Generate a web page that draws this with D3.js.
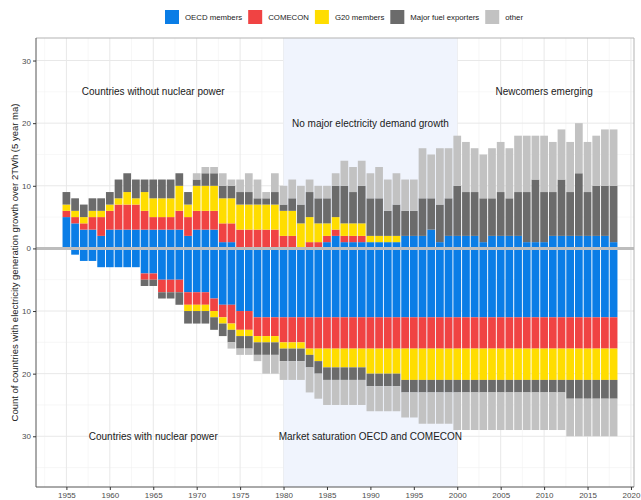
<!DOCTYPE html>
<html>
<head>
<meta charset="utf-8">
<script src="https://cdn.jsdelivr.net/npm/d3@7"></script>
<style>
  body { margin: 0; background: #fff; }
  svg { font-family: "Liberation Sans", Arial, sans-serif; }
</style>
</head>
<body>
<svg width="641" height="500"></svg>
<script>
'use strict';

const years = [1955, 1956, 1957, 1958, 1959, 1960, 1961, 1962, 1963, 1964,
    1965, 1966, 1967, 1968, 1969, 1970, 1971, 1972, 1973, 1974,
    1975, 1976, 1977, 1978, 1979, 1980, 1981, 1982, 1983, 1984,
    1985, 1986, 1987, 1988, 1989, 1990, 1991, 1992, 1993, 1994,
    1995, 1996, 1997, 1998, 1999, 2000, 2001, 2002, 2003, 2004,
    2005, 2006, 2007, 2008, 2009, 2010, 2011, 2012, 2013, 2014,
    2015, 2016, 2017, 2018];

const groups = ["OECD members", "COMECON", "G20 members", "Major fuel exporters", "other"];
const groupColors = ["#0a7de6", "#f04343", "#ffdd00", "#6b6b6b", "#c2c2c2"];

// countries without nuclear power (drawn upwards)
const oecdNoNuc = [5, 4, 3, 3, 2, 3, 3, 3, 3, 3,
    3, 3, 3, 3, 2, 3, 3, 3, 1, 1,
    0, 0, 0, 0, 0, 0, 0, 0, 0, 0,
    1, 2, 1, 1, 1, 1, 1, 1, 1, 2,
    2, 2, 3, 1, 2, 2, 2, 2, 1, 2,
    2, 2, 2, 1, 1, 1, 2, 2, 2, 2,
    2, 2, 2, 1];
const comeconNoNuc = [1, 1, 1, 2, 3, 3, 4, 4, 4, 3,
    2, 2, 2, 3, 3, 3, 3, 3, 3, 3,
    3, 3, 3, 3, 3, 2, 2, 0, 1, 1,
    1, 1, 1, 1, 1, 0, 0, 0, 0, 0,
    0, 0, 0, 0, 0, 0, 0, 0, 0, 0,
    0, 0, 0, 0, 0, 0, 0, 0, 0, 0,
    0, 0, 0, 0];
const g20NoNuc = [1, 1, 1, 1, 1, 1, 1, 2, 1, 3,
    3, 3, 3, 4, 2, 4, 4, 4, 4, 4,
    4, 4, 4, 4, 4, 4, 4, 4, 4, 3,
    2, 2, 2, 2, 2, 1, 1, 1, 1, 0,
    0, 0, 0, 0, 0, 0, 0, 0, 0, 0,
    0, 0, 0, 0, 0, 0, 0, 0, 0, 0,
    0, 0, 0, 0];
const fuelNoNuc = [2, 2, 2, 2, 2, 2, 3, 3, 3, 2,
    3, 3, 3, 2, 2, 1, 2, 2, 2, 2,
    2, 2, 1, 1, 2, 1, 2, 3, 4, 4,
    4, 5, 6, 5, 6, 6, 6, 4, 5, 4,
    4, 6, 5, 6, 6, 8, 7, 7, 7, 6,
    7, 6, 7, 8, 10, 8, 7, 9, 7, 10,
    7, 8, 8, 9];
const otherNoNuc = [0, 0, 0, 0, 0, 0, 0, 0, 0, 0,
    0, 0, 0, 0, 0, 1, 1, 1, 2, 1,
    2, 3, 3, 1, 3, 3, 3, 3, 2, 2,
    2, 2, 4, 4, 4, 4, 5, 5, 5, 5,
    5, 8, 7, 9, 8, 8, 8, 7, 7, 8,
    8, 8, 9, 9, 7, 9, 8, 8, 8, 8,
    8, 8, 9, 9];

// countries with nuclear power (drawn downwards)
const oecdNuc = [0, 1, 2, 2, 3, 3, 3, 3, 3, 4,
    4, 5, 5, 5, 7, 7, 7, 8, 9, 9,
    10, 10, 11, 11, 11, 11, 11, 11, 11, 11,
    11, 11, 11, 11, 11, 11, 11, 11, 11, 11,
    11, 11, 11, 11, 11, 11, 11, 11, 11, 11,
    11, 11, 11, 11, 11, 11, 11, 11, 11, 11,
    11, 11, 11, 11];
const comeconNuc = [0, 0, 0, 0, 0, 0, 0, 0, 0, 1,
    1, 2, 2, 2, 2, 2, 2, 2, 2, 3,
    3, 3, 3, 3, 3, 4, 4, 4, 5, 5,
    5, 5, 5, 5, 5, 5, 5, 5, 5, 5,
    5, 5, 5, 5, 5, 5, 5, 5, 5, 5,
    5, 5, 5, 5, 5, 5, 5, 5, 5, 5,
    5, 5, 5, 5];
const g20Nuc = [0, 0, 0, 0, 0, 0, 0, 0, 0, 0,
    0, 0, 0, 0, 1, 1, 1, 1, 1, 1,
    1, 1, 1, 1, 1, 1, 1, 1, 1, 2,
    3, 3, 3, 3, 3, 4, 4, 4, 4, 5,
    5, 5, 5, 5, 5, 5, 5, 5, 5, 5,
    5, 5, 5, 5, 5, 5, 5, 5, 5, 5,
    5, 5, 5, 5];
const fuelNuc = [0, 0, 0, 0, 0, 0, 0, 0, 0, 1,
    1, 1, 1, 2, 2, 2, 2, 2, 2, 2,
    2, 2, 2, 2, 2, 2, 2, 2, 2, 2,
    2, 2, 2, 2, 2, 2, 2, 2, 2, 2,
    2, 2, 2, 2, 2, 2, 2, 2, 2, 2,
    2, 2, 2, 2, 2, 2, 2, 2, 3, 3,
    3, 3, 3, 3];
const otherNuc = [0, 0, 0, 0, 0, 0, 0, 0, 0, 0,
    0, 0, 0, 0, 0, 0, 0, 0, 0, 1,
    1, 1, 1, 3, 3, 3, 3, 3, 4, 4,
    4, 4, 4, 4, 4, 4, 4, 4, 4, 4,
    4, 5, 5, 5, 5, 6, 6, 6, 6, 6,
    6, 6, 6, 6, 6, 6, 6, 6, 6, 6,
    6, 6, 6, 6];

const xTicks = [1955, 1960, 1965, 1970, 1975, 1980, 1985, 1990, 1995, 2000, 2005, 2010, 2015, 2020];
const yTicks = [-30, -20, -10, 0, 10, 20, 30];

const notes = [
    {text: "Countries without nuclear power", year: 1965, value: 25},
    {text: "No major electricity demand growth", year: 1990, value: 20},
    {text: "Newcomers emerging", year: 2010, value: 25},
    {text: "Countries with nuclear power", year: 1965, value: -30},
    {text: "Market saturation OECD and COMECON", year: 1990, value: -30}
];

// build tables for d3.stack
const upRows = years.map((y, i) => ({
    year: y,
    "OECD members": oecdNoNuc[i],
    "COMECON": comeconNoNuc[i],
    "G20 members": g20NoNuc[i],
    "Major fuel exporters": fuelNoNuc[i],
    "other": otherNoNuc[i]
}));
const downRows = years.map((y, i) => ({
    year: y,
    "OECD members": oecdNuc[i],
    "COMECON": comeconNuc[i],
    "G20 members": g20Nuc[i],
    "Major fuel exporters": fuelNuc[i],
    "other": otherNuc[i]
}));

const svg = d3.select("svg");
const panel = {left: 36, right: 634, top: 38, bottom: 487};

const x = d3.scaleLinear().domain([1951.5, 2020.35]).range([panel.left, panel.right]);
const y = d3.scaleLinear().domain([-38.1, 33.6]).range([panel.bottom, panel.top]);
const color = d3.scaleOrdinal().domain(groups).range(groupColors);
const barW = (x(1956) - x(1955)) * 0.89;

// grid
const grid = svg.append("g");
const minorX = xTicks.map(t => t - 2.5).filter(t => x(t) > panel.left);
const minorY = [-35, -25, -15, -5, 5, 15, 25];
grid.selectAll(".mx").data(minorX).enter().append("line")
    .attr("x1", d => x(d)).attr("x2", d => x(d))
    .attr("y1", panel.top).attr("y2", panel.bottom)
    .attr("stroke", "#f2f2f2").attr("stroke-width", 0.6);
grid.selectAll(".my").data(minorY).enter().append("line")
    .attr("x1", panel.left).attr("x2", panel.right)
    .attr("y1", d => y(d)).attr("y2", d => y(d))
    .attr("stroke", "#f2f2f2").attr("stroke-width", 0.6);
grid.selectAll(".gx").data(xTicks).enter().append("line")
    .attr("x1", d => x(d)).attr("x2", d => x(d))
    .attr("y1", panel.top).attr("y2", panel.bottom)
    .attr("stroke", "#e8e8e8").attr("stroke-width", 1);
grid.selectAll(".gy").data(yTicks).enter().append("line")
    .attr("x1", panel.left).attr("x2", panel.right)
    .attr("y1", d => y(d)).attr("y2", d => y(d))
    .attr("stroke", "#e8e8e8").attr("stroke-width", 1);

// shaded period
svg.append("rect")
    .attr("x", x(1980)).attr("width", x(2000) - x(1980))
    .attr("y", panel.top).attr("height", panel.bottom - panel.top)
    .attr("fill", "#f0f4fd");

// bars
const stack = d3.stack().keys(groups);
const upSeries = stack(upRows);
const downSeries = stack(downRows);

function drawBars(series, sign) {
    svg.append("g").selectAll("g")
        .data(series)
        .enter().append("g")
        .attr("fill", d => color(d.key))
        .selectAll("rect")
        .data(d => d.filter(p => p[1] > p[0]))
        .enter().append("rect")
        .attr("x", d => x(d.data.year) - barW / 2)
        .attr("width", barW)
        .attr("y", d => sign > 0 ? y(d[1]) : y(-d[0]))
        .attr("height", d => Math.abs(y(d[1]) - y(d[0])));
}
drawBars(upSeries, 1);
drawBars(downSeries, -1);

// zero line
svg.append("line")
    .attr("x1", panel.left).attr("x2", panel.right)
    .attr("y1", y(0)).attr("y2", y(0))
    .attr("stroke", "#bdbdbd").attr("stroke-width", 3);

// annotations
svg.append("g").selectAll("text")
    .data(notes)
    .enter().append("text")
    .attr("x", d => x(d.year))
    .attr("y", d => y(d.value))
    .attr("dy", "0.35em")
    .attr("text-anchor", "middle")
    .attr("font-size", "10px")
    .attr("fill", "#1a1a1a")
    .text(d => d.text);

// panel border
svg.append("path")
    .attr("d", `M${panel.left},${panel.top}H${panel.right}V${panel.bottom}`)
    .attr("fill", "none").attr("stroke", "#b3b3b3").attr("stroke-width", 1);
svg.append("path")
    .attr("d", `M${panel.left},${panel.top}V${panel.bottom}H${panel.right}`)
    .attr("fill", "none").attr("stroke", "#555").attr("stroke-width", 1);

// axes
const xAxis = svg.append("g")
    .attr("transform", `translate(0,${panel.bottom})`)
    .call(d3.axisBottom(x).tickValues(xTicks).tickFormat(d3.format("d")).tickSize(3).tickPadding(2));
const yAxis = svg.append("g")
    .attr("transform", `translate(${panel.left},0)`)
    .call(d3.axisLeft(y).tickValues(yTicks).tickFormat(d => Math.abs(d)).tickSize(3).tickPadding(2));
[xAxis, yAxis].forEach(a => {
    a.select(".domain").remove();
    a.selectAll(".tick line").attr("stroke", "#333");
    a.selectAll(".tick text").attr("fill", "#4d4d4d")
        .attr("font-size", "8px")
        .attr("font-family", "Liberation Sans, Arial, sans-serif");
});

svg.append("text")
    .attr("transform", `translate(15,${(panel.top + panel.bottom) / 2}) rotate(-90)`)
    .attr("text-anchor", "middle")
    .attr("dy", "0.35em")
    .attr("font-size", "9.5px")
    .attr("fill", "#1a1a1a")
    .text("Count of countries with electricity generation growth over 2TWh (5 year ma)");

// legend
const legend = svg.append("g");
let lx = 165;
groups.forEach((g, i) => {
    legend.append("rect")
        .attr("x", lx).attr("y", 10)
        .attr("width", 14).attr("height", 14)
        .attr("fill", groupColors[i]);
    const t = legend.append("text")
        .attr("x", lx + 20).attr("y", 17)
        .attr("dy", "0.35em")
        .attr("font-size", "7.8px")
        .attr("fill", "#1a1a1a")
        .text(g);
    lx += 20 + t.node().getComputedTextLength() + 6;
});
</script>
</body>
</html>
